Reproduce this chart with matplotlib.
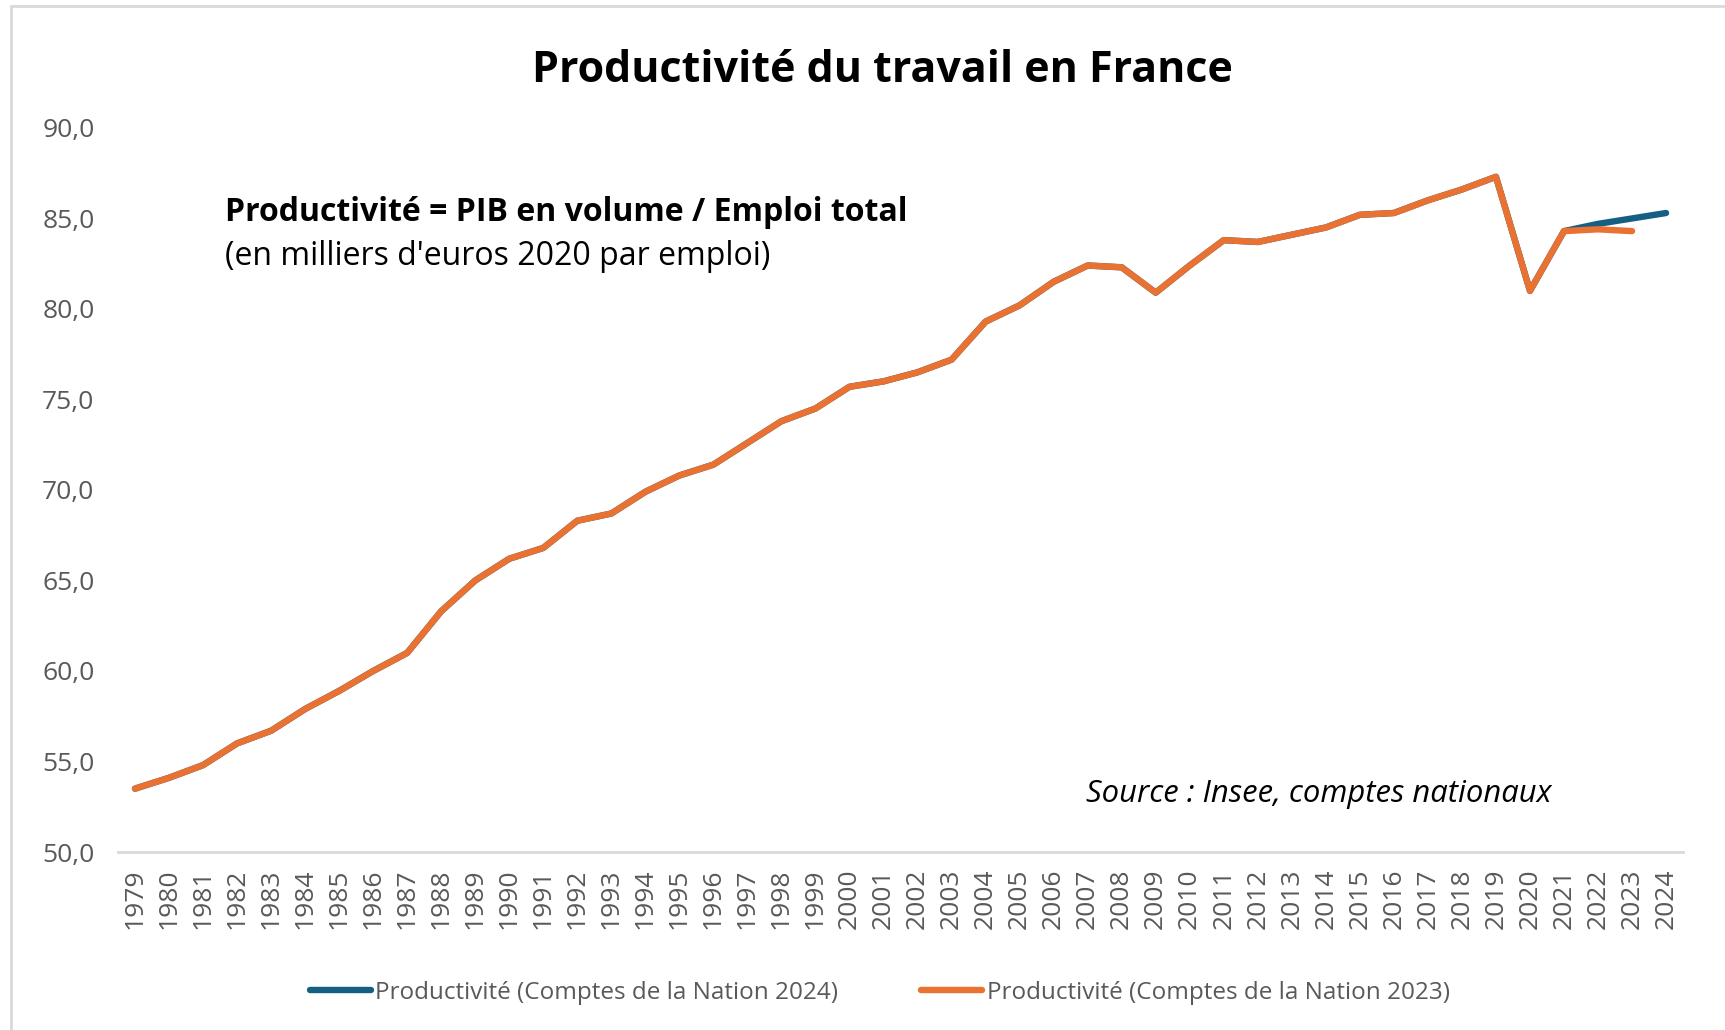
import matplotlib.pyplot as plt
import matplotlib.patches as mpatches

# Données (milliers d'euros 2020 par emploi)
annees = list(range(1979, 2025))
prod_2023 = [53.5, 54.1, 54.8, 56.0, 56.7, 57.9, 58.9, 60.0, 61.0, 63.3,
             65.0, 66.2, 66.8, 68.3, 68.7, 69.9, 70.8, 71.4, 72.6, 73.8,
             74.5, 75.7, 76.0, 76.5, 77.2, 79.3, 80.2, 81.5, 82.4, 82.3,
             80.9, 82.4, 83.8, 83.7, 84.1, 84.5, 85.2, 85.3, 86.0, 86.6,
             87.3, 81.0, 84.3, 84.4, 84.3]
prod_2024 = prod_2023[:43] + [84.7, 85.0, 85.3]
graduations = [50, 55, 60, 65, 70, 75, 80, 85, 90]

BLEU = '#156082'
ORANGE = '#E97132'
GRIS = '#595959'

plt.rcParams['font.family'] = ['Open Sans', 'DejaVu Sans']

fig = plt.figure(figsize=(17.25, 10.3), dpi=100)
ax = fig.add_axes([0.0684, 0.1728, 0.9073, 0.703])

x = list(range(len(annees)))
ax.plot(x[:len(prod_2024)], prod_2024, color=BLEU, linewidth=4.6, solid_capstyle='round',
        label='Productivité (Comptes de la Nation 2024)')
ax.plot(x[:len(prod_2023)], prod_2023, color=ORANGE, linewidth=4.6, solid_capstyle='round',
        label='Productivité (Comptes de la Nation 2023)')

ax.set_xlim(-0.5, len(annees) - 0.5)
ax.set_ylim(50, 90)
ax.set_yticks(graduations)
ax.set_yticklabels([f"{v:.1f}".replace('.', ',') for v in graduations])
ax.set_xticks(x)
ax.set_xticklabels([str(a) for a in annees], rotation=90)
ax.tick_params(axis='y', length=0, colors=GRIS, labelsize=19, pad=17)
ax.tick_params(axis='x', length=0, colors=GRIS, labelsize=19, pad=12)

for s in ['top', 'right', 'left']:
    ax.spines[s].set_visible(False)
ax.spines['bottom'].set_color('#D9D9D9')
ax.spines['bottom'].set_linewidth(2)

fig.text(0.5117, 0.932, "Productivité du travail en France", ha='center', va='center',
         fontsize=31, fontweight='bold', color='black')
fig.text(0.1304, 0.794, "Productivité = PIB en volume / Emploi total", ha='left', va='center',
         fontsize=23, fontweight='bold', color='black')
fig.text(0.1304, 0.751, "(en milliers d'euros 2020 par emploi)", ha='left', va='center',
         fontsize=23, color='black')
fig.text(0.6296, 0.229, "Source : Insee, comptes nationaux", ha='left', va='center',
         fontsize=22.3, style='italic', color='black')

fig.legend(loc='center', bbox_to_anchor=(0.51, 0.036), ncol=2, frameon=False,
           fontsize=17.5, labelcolor=GRIS, handlelength=2.5, handletextpad=0.2,
           columnspacing=3.4)

# cadre gris clair du graphique
fig.patches.append(mpatches.Rectangle((11 / 1725, -0.1), 1.2, 1.1 - 6 / 1030,
                                      transform=fig.transFigure, fill=False,
                                      edgecolor='#D9D9D9', linewidth=2))

fig.savefig('out.png', dpi=100, facecolor='white')
